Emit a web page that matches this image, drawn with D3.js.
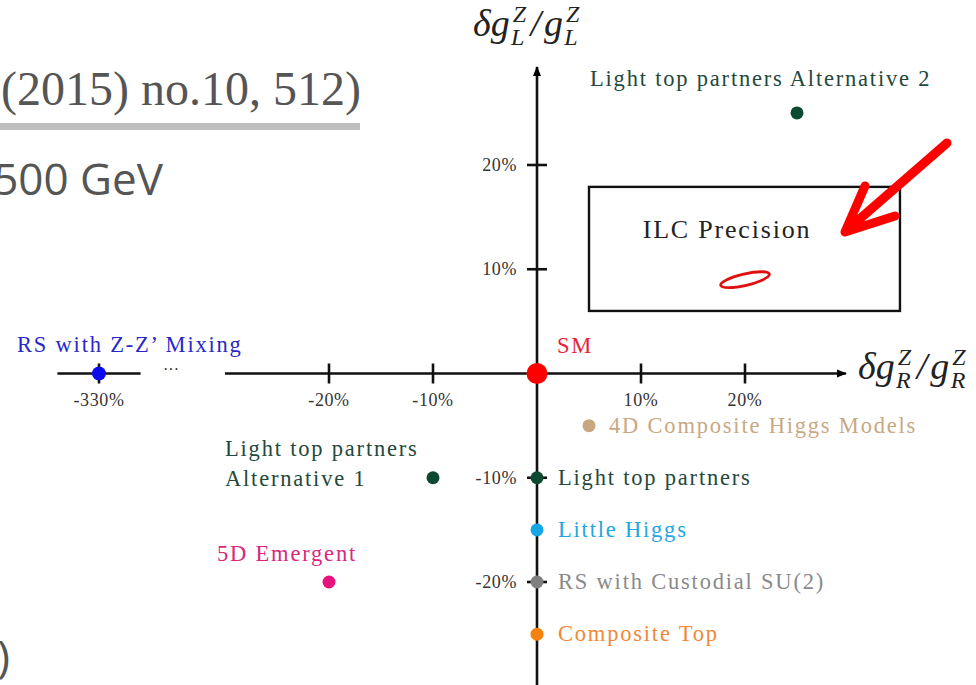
<!DOCTYPE html>
<html>
<head>
<meta charset="utf-8">
<script src="https://cdn.jsdelivr.net/npm/d3@7"></script>
<style>
  html, body { margin: 0; padding: 0; background: #ffffff; }
  svg { display: block; }
</style>
</head>
<body>
<svg id="chart" width="976" height="685"></svg>
<script>
// Model predictions for deviations of the Z couplings to right- and left-handed top quarks (in %)
const modelNames = [
  "SM",
  "RS with Z-Z\u2019 Mixing",
  "Light top partners Alternative 2",
  "Light top partners Alternative 1",
  "Light top partners",
  "Little Higgs",
  "RS with Custodial SU(2)",
  "Composite Top",
  "5D Emergent",
  "4D Composite Higgs Models"
];
const dgR = [0, -330, 25, -10, 0, 0, 0, 0, -20, 5];
const dgL = [0, 0, 25, -10, -10, -15, -20, -25, -20, -5];
const modelColors = ["#ff0000", "#0a0aee", "#0b4a30", "#0b4a30", "#0b4a30", "#19a6e6",
                     "#808080", "#f5820f", "#e8127e", "#c8a67e"];
const labelColors = ["#e8213a", "#2828c8", "#23483c", "#23483c", "#23483c", "#1ea6e2",
                     "#8a8a8a", "#f0883a", "#d8287e", "#c8a882"];

const xTicks = [-20, -10, 10, 20];
const yTicks = [20, 10, -10, -20];
const xTickLabels = ["-20%", "-10%", "10%", "20%"];
const yTickLabels = ["20%", "10%", "-10%", "-20%"];
const breakTick = -330;
const breakTickLabel = "-330%";

// ILC expected precision (ellipse centre and size in %)
const ilcCentre = [20, 9];
const ilcRadii = [2.4, 0.55];

const svg = d3.select("#chart");
const serif = "'Liberation Serif', 'Times New Roman', serif";

// Scales: main axis region and the broken segment far to the left
const x = d3.scaleLinear().domain([-20, 20]).range([329, 745]);
const y = d3.scaleLinear().domain([-20, 20]).range([582, 165]);
const xBreak = d3.scaleLinear().domain([-334, -326]).range([99 - 41.6, 99 + 41.6]);
const xPos = v => v < -100 ? xBreak(v) : x(v);

// ---- header text of the slide ----
svg.append("text")
  .attr("x", 361).attr("y", 105)
  .attr("text-anchor", "end")
  .attr("font-family", serif).attr("font-size", 48)
  .attr("fill", "#555")
  .text("(2015) no.10, 512)");
svg.append("rect").attr("x", 0).attr("y", 123).attr("width", 360).attr("height", 7).attr("fill", "#bfbfbf");
svg.append("text")
  .attr("x", 163).attr("y", 195)
  .attr("text-anchor", "end")
  .attr("font-family", "'Open Sans', sans-serif").attr("font-size", 44)
  .attr("fill", "#555")
  .text("500 GeV");
svg.append("text")
  .attr("x", 10).attr("y", 672)
  .attr("text-anchor", "end")
  .attr("font-family", "'Open Sans', sans-serif").attr("font-size", 44)
  .attr("fill", "#555")
  .text(")");

// ---- arrow marker ----
const defs = svg.append("defs");
defs.append("marker")
  .attr("id", "axhead").attr("viewBox", "0 0 10 10")
  .attr("refX", 9).attr("refY", 5)
  .attr("markerWidth", 4).attr("markerHeight", 4)
  .attr("orient", "auto")
  .append("path").attr("d", "M0,1 L10,5 L0,9 Z").attr("fill", "#000");

// ---- axes ----
const axisG = svg.append("g").attr("stroke", "#111").attr("stroke-width", 2.6);
axisG.append("line")
  .attr("x1", x(-30)).attr("x2", x(29.7))
  .attr("y1", y(0)).attr("y2", y(0))
  .attr("marker-end", "url(#axhead)");
axisG.append("line")
  .attr("x1", xBreak(-334)).attr("x2", xBreak(-326))
  .attr("y1", y(0)).attr("y2", y(0));
axisG.append("line")
  .attr("x1", x(0)).attr("x2", x(0))
  .attr("y1", y(-31)).attr("y2", y(29.4))
  .attr("marker-end", "url(#axhead)");

// break dots
svg.append("text")
  .attr("x", 171).attr("y", y(0) + 1)
  .attr("text-anchor", "middle")
  .attr("font-family", serif).attr("font-size", 16).attr("fill", "#333")
  .text("\u00b7\u00b7\u00b7");

// x ticks
axisG.selectAll(".xt").data(xTicks).enter().append("line")
  .attr("x1", d => x(d)).attr("x2", d => x(d))
  .attr("y1", y(0) - 10).attr("y2", y(0) + 10);
axisG.append("line")
  .attr("x1", xBreak(breakTick)).attr("x2", xBreak(breakTick))
  .attr("y1", y(0) - 10).attr("y2", y(0) + 10);
// y ticks
axisG.selectAll(".yt").data(yTicks).enter().append("line")
  .attr("x1", x(0) - 10).attr("x2", x(0) + 10)
  .attr("y1", d => y(d)).attr("y2", d => y(d));

const tickFont = 18;
const tickSpacing = 0.6;
svg.selectAll(".xtl").data(xTicks).enter().append("text")
  .attr("x", d => x(d)).attr("y", y(0) + 32)
  .attr("text-anchor", "middle")
  .attr("font-family", serif).attr("font-size", tickFont).attr("letter-spacing", tickSpacing)
  .attr("fill", "#333")
  .text((d, i) => xTickLabels[i]);
svg.append("text")
  .attr("x", xBreak(breakTick)).attr("y", y(0) + 32)
  .attr("text-anchor", "middle")
  .attr("font-family", serif).attr("font-size", tickFont).attr("letter-spacing", tickSpacing)
  .attr("fill", "#333")
  .text(breakTickLabel);
svg.selectAll(".ytl").data(yTicks).enter().append("text")
  .attr("x", x(0) - 20).attr("y", d => y(d) + 6)
  .attr("text-anchor", "end")
  .attr("font-family", serif).attr("font-size", tickFont).attr("letter-spacing", tickSpacing)
  .attr("fill", "#333")
  .text((d, i) => yTickLabels[i]);

// ---- axis titles: δg^Z_L / g^Z_L and δg^Z_R / g^Z_R ----
function coupling(sel, ax, ay, sub) {
  const t = sel.append("text")
    .attr("x", ax).attr("y", ay)
    .attr("font-family", serif).attr("font-style", "italic")
    .attr("font-size", 38).attr("fill", "#222");
  t.append("tspan").text("\u03b4g");
  t.append("tspan").attr("font-size", 24).attr("dx", 3).attr("dy", -14).text("Z");
  t.append("tspan").attr("font-size", 24).attr("dx", -15).attr("dy", 23).text(sub);
  t.append("tspan").attr("dx", 6).attr("dy", -9).text("/");
  t.append("tspan").attr("dx", 3).text("g");
  t.append("tspan").attr("font-size", 24).attr("dx", 3).attr("dy", -14).text("Z");
  t.append("tspan").attr("font-size", 24).attr("dx", -15).attr("dy", 23).text(sub);
}
coupling(svg, 473, 36, "L");
coupling(svg, 858, 379, "R");

// ---- ILC precision box ----
svg.append("rect")
  .attr("x", x(5)).attr("y", y(17.9))
  .attr("width", x(34.9) - x(5)).attr("height", y(6) - y(17.9))
  .attr("fill", "none").attr("stroke", "#111").attr("stroke-width", 2.4);
svg.append("text")
  .attr("x", 727).attr("y", 238)
  .attr("text-anchor", "middle")
  .attr("font-family", serif).attr("font-size", 26).attr("letter-spacing", 1.8)
  .attr("fill", "#222")
  .text("ILC Precision");
svg.append("ellipse")
  .attr("cx", 0).attr("cy", 0)
  .attr("rx", x(ilcRadii[0]) - x(0)).attr("ry", y(0) - y(ilcRadii[1]))
  .attr("transform", `translate(${x(ilcCentre[0])},${y(ilcCentre[1])}) rotate(-13)`)
  .attr("fill", "none").attr("stroke", "#e01010").attr("stroke-width", 2.8);

// red pointer arrow
svg.append("path")
  .attr("d", "M947,143 L847,230 M865,186 L845,232 L895,216")
  .attr("fill", "none").attr("stroke", "#ff0000")
  .attr("stroke-width", 9).attr("stroke-linecap", "round").attr("stroke-linejoin", "round");

// ---- model points ----
const models = modelNames.map((n, i) => ({
  name: n, r: dgR[i], l: dgL[i], color: modelColors[i], label: labelColors[i]
}));
svg.selectAll(".pt").data(models).enter().append("circle")
  .attr("cx", d => xPos(d.r)).attr("cy", d => y(d.l))
  .attr("r", d => d.name === "SM" ? 10.5 : (d.r < -100 ? 7 : 6.5))
  .attr("fill", d => d.color);

// labels, placed next to their points
const lblFont = 22.5;
const lblSpacing = 1.8;
const labelOffsets = {
  "SM": [20, -21, "start"],
  "RS with Z-Z\u2019 Mixing": [-82, -22, "start"],
  "Light top partners Alternative 2": [-207, -27, "start"],
  "Light top partners": [21, 7, "start"],
  "Little Higgs": [21, 7, "start"],
  "RS with Custodial SU(2)": [21, 7, "start"],
  "Composite Top": [21, 7, "start"],
  "5D Emergent": [28, -21, "end"],
  "4D Composite Higgs Models": [20, 7, "start"]
};
models.forEach(d => {
  const o = labelOffsets[d.name];
  if (!o) return;
  svg.append("text")
    .attr("x", xPos(d.r) + o[0]).attr("y", y(d.l) + o[1])
    .attr("text-anchor", o[2])
    .attr("font-family", serif).attr("font-size", lblFont).attr("letter-spacing", lblSpacing)
    .attr("fill", d.label)
    .text(d.name);
});
// two-line label for Alternative 1
const alt1 = models.find(d => d.name === "Light top partners Alternative 1");
const alt1Text = svg.append("text")
  .attr("font-family", serif).attr("font-size", lblFont).attr("letter-spacing", lblSpacing)
  .attr("fill", alt1.label);
alt1Text.append("tspan").attr("x", xPos(alt1.r) - 208).attr("y", y(alt1.l) - 22).text("Light top partners");
alt1Text.append("tspan").attr("x", xPos(alt1.r) - 208).attr("y", y(alt1.l) + 8).text("Alternative 1");
</script>
</body>
</html>
